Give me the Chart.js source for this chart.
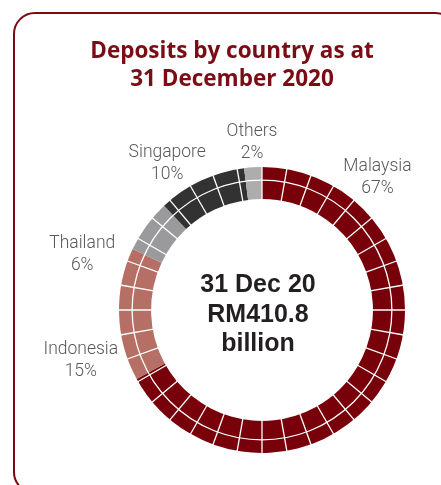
<!DOCTYPE html>
<html>
<head>
<meta charset="utf-8">
<script src="https://cdn.jsdelivr.net/npm/chart.js@4.4.1/dist/chart.umd.min.js"></script>
<style>
  html, body { margin: 0; padding: 0; background: #fff; overflow: hidden; }
  body { width: 441px; height: 485px; position: relative; }
  .card {
    position: absolute; left: 13px; top: 12px;
    width: 440px; height: 478px;
    border: 2.5px solid #7c0a12; border-radius: 22px;
  }
  canvas { position: absolute; left: 0; top: 0; }
</style>
</head>
<body>
<div class="card"></div>
<canvas class="deposits" width="441" height="485"></canvas>
<script>
const countries = ["Malaysia", "Indonesia", "Thailand", "Singapore", "Others"];
const shares = [67, 15, 6, 10, 2];
const sliceColors = ["#77000a", "#b66f64", "#9a9a9c", "#333233", "#adadad"];

const titleLines = ["Deposits by country as at", "31 December 2020"];
const centerLines = ["31 Dec 20", "RM410.8", "billion"];

// where each label sits around the ring: degrees clockwise from top, distance from centre
const labelAngle = [41, 254.5, 287, 327, 356.6];
const labelDist = [176, 188, 188, 174, 168];

const deg = Math.PI / 180;

const ringLines = {
    id: "ringLines",
    afterDatasetsDraw(chart) {
        const arc = chart.getDatasetMeta(0).data[0];
        const {x, y, innerRadius, outerRadius} = arc.getProps(["x", "y", "innerRadius", "outerRadius"], true);
        const ctx = chart.ctx;
        ctx.save();
        ctx.strokeStyle = "#ffffff";
        ctx.lineWidth = 1.3;
        for (let i = 0; i < 36; i++) {
            const a = -Math.PI / 2 + i * 10 * deg;
            ctx.beginPath();
            ctx.moveTo(x + Math.cos(a) * (innerRadius - 1), y + Math.sin(a) * (innerRadius - 1));
            ctx.lineTo(x + Math.cos(a) * (outerRadius + 1), y + Math.sin(a) * (outerRadius + 1));
            ctx.stroke();
        }
        ctx.beginPath();
        ctx.arc(x, y, innerRadius + (outerRadius - innerRadius) * 0.59, 0, 2 * Math.PI);
        ctx.stroke();
        ctx.restore();
    },
};

const texts = {
    id: "texts",
    afterDraw(chart) {
        const arc = chart.getDatasetMeta(0).data[0];
        const {x, y} = arc.getProps(["x", "y"], true);
        const ctx = chart.ctx;
        ctx.save();
        ctx.textAlign = "center";

        // title
        ctx.fillStyle = "#7a0c14";
        ctx.font = "bold 22.5px 'Open Sans'";
        ctx.textBaseline = "alphabetic";
        titleLines.forEach((t, i) => ctx.fillText(t, 232, 58 + i * 28));

        // centre text
        ctx.fillStyle = "#231f20";
        ctx.font = "bold 25px 'Liberation Sans'";
        centerLines.forEach((t, i) => ctx.fillText(t, x - 4, y - 18 + i * 29.5));

        // slice labels
        ctx.fillStyle = "#58585a";
        ctx.font = "300 17.5px Roboto";
        ctx.textBaseline = "middle";
        countries.forEach((c, i) => {
            const a = labelAngle[i] * deg;
            const lx = x + Math.sin(a) * labelDist[i];
            const ly = y - Math.cos(a) * labelDist[i];
            ctx.fillText(c, lx, ly - 11);
            ctx.fillText(shares[i] + "%", lx, ly + 11);
        });
        ctx.restore();
    },
};

const myChart = document.querySelector(".deposits");
new Chart(myChart, {
    type: "doughnut",
    data: {
        labels: countries,
        datasets: [
            {
                label: "Deposits",
                data: shares,
                backgroundColor: sliceColors,
                borderWidth: 0,
                hoverOffset: 0,
                offset: 0,
            },
        ],
    },
    options: {
        responsive: false,
        animation: false,
        devicePixelRatio: 1,
        events: [],
        cutout: "77.6%",
        layout: {
            padding: {left: 119, right: 36, top: 167, bottom: 32},
        },
        plugins: {
            legend: {display: false},
            tooltip: {enabled: false},
        },
    },
    plugins: [ringLines, texts],
});
</script>
</body>
</html>
